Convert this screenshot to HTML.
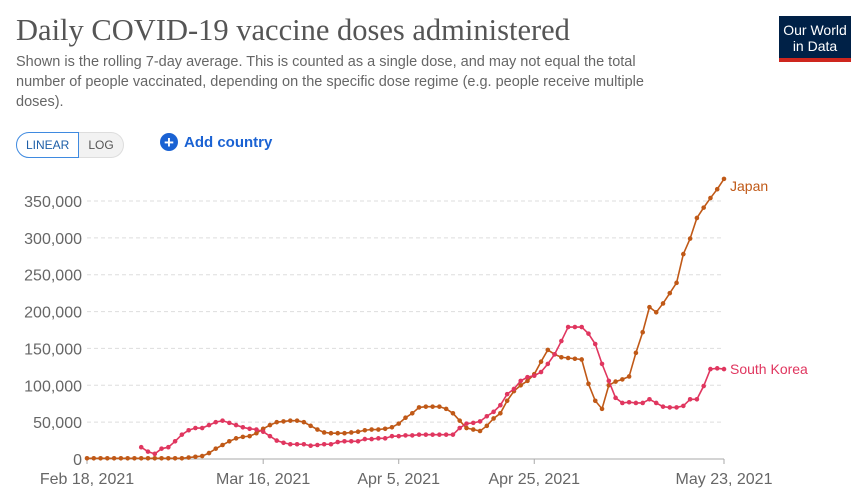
<!DOCTYPE html>
<html><head><meta charset="utf-8"><style>
body{margin:0;width:867px;height:499px;background:#fff;font-family:"Liberation Sans",sans-serif;overflow:hidden;position:relative}
#title{position:absolute;left:16px;top:13px;font-family:"Liberation Serif",serif;font-size:30.5px;color:#555;white-space:nowrap}
#sub{position:absolute;left:16px;top:52px;width:665px;font-size:14.5px;line-height:20px;color:#666}
.btns{position:absolute;left:16px;top:132px;display:flex;font-size:12px}
.b{padding:5px 9px;border:1px solid #ddd;color:#555}
.b1{border:1px solid #3f8ae0;color:#1d5fa8;border-radius:13px 0 0 13px}
.b2{border-radius:0 13px 13px 0;background:#f2f2f2;border-left:none}
#add{position:absolute;left:160px;top:133px;font-size:15px;font-weight:bold;color:#1a62d3;display:flex;align-items:center;gap:6px}
#add span.c{width:18px;height:18px;border-radius:50%;background:#1a62d3;color:#fff;display:inline-flex;align-items:center;justify-content:center;font-size:17px;line-height:1}
#logo{position:absolute;left:779px;top:16px;width:72px;height:46px;background:#002147;color:#fff;font-size:14px;text-align:center;line-height:16px;box-sizing:border-box;padding-top:6px;border-bottom:4px solid #ce261e}
</style></head><body>
<div id="title">Daily COVID-19 vaccine doses administered</div>
<div id="sub">Shown is the rolling 7-day average. This is counted as a single dose, and may not equal the total number of people vaccinated, depending on the specific dose regime (e.g. people receive multiple doses).</div>
<div class="btns"><div class="b b1">LINEAR</div><div class="b b2">LOG</div></div>
<div id="add"><span class="c">+</span>Add country</div>
<div id="logo">Our World<br>in Data</div>
<svg id="chart" width="867" height="499" style="position:absolute;left:0;top:0"></svg>
<script>
const yTicks=[0,50000,100000,150000,200000,250000,300000,350000];
const yTickLabels=["0","50,000","100,000","150,000","200,000","250,000","300,000","350,000"];
const xTickDays=[0,26,46,66,94];
const xTickLabels=["Feb 18, 2021","Mar 16, 2021","Apr 5, 2021","Apr 25, 2021","May 23, 2021"];
const japan=[1000,1000,1000,1000,1000,1000,1000,1000,1000,1000,1000,1000,1000,1000,1000,2000,3000,4000,8000,14000,19000,24000,28000,30000,31000,35000,41000,46000,50000,51000,52000,52000,50000,45000,40000,36000,35000,35000,35000,36000,37000,39000,40000,40000,41000,43000,48000,56000,62000,70000,71000,71000,71000,68000,62000,52000,42000,40000,38000,45000,55000,62000,79000,92000,100000,106000,115000,132000,148000,142000,138000,137000,136000,135000,102000,79000,68000,100000,105000,108000,112000,144000,172000,206000,199000,211000,225000,239000,278000,299000,327000,341000,354000,366000,380000];
const korea=[null,null,null,null,null,null,null,null,16000,10000,7000,14000,16000,24000,33000,39000,42000,42000,46000,50000,52000,49000,46000,43000,41000,40000,37000,31000,25000,22000,20000,20000,20000,18000,19000,20000,20000,23000,24000,24000,24000,27000,27000,28000,28000,31000,31000,32000,32000,33000,33000,33000,33000,33000,33000,42000,48000,49000,51000,58000,64000,73000,88000,95000,106000,111000,113000,118000,129000,142000,160000,179000,179000,179000,170000,156000,129000,106000,83000,76000,77000,76000,76000,81000,76000,71000,70000,70000,72000,81000,81000,99000,122000,123000,122000];
const svg=document.getElementById('chart');const NS='http://www.w3.org/2000/svg';
const x0=87,x1=724,y0=459,y1=201;
const xs=d=>x0+(x1-x0)*d/94;
const ys=v=>y0-(y0-y1)*v/350000;
function mk(t,a,p){const e=document.createElementNS(NS,t);for(const k in a)e.setAttribute(k,a[k]);(p||svg).appendChild(e);return e;}
yTicks.forEach((v,i)=>{
  if(i>0){const g=mk('line',{x1:x0,x2:x1,y1:ys(v),y2:ys(v),stroke:'#ddd','stroke-dasharray':'4,3'});
  
  }
  const t=mk('text',{x:82,y:ys(v)+6,'text-anchor':'end','font-size':'16','fill':'#666','font-family':'Liberation Sans, sans-serif'});
  t.textContent=yTickLabels[i];
  
  
});
const ax=mk('line',{x1:x0,x2:x1,y1:y0,y2:y0,stroke:'#aaa'});


xTickDays.forEach((d,i)=>{
  mk('line',{x1:xs(d),x2:xs(d),y1:y0,y2:y0+5,stroke:'#aaa'});
  const t=mk('text',{x:xs(d),y:484,'text-anchor':'middle','font-size':'16','fill':'#666','font-family':'Liberation Sans, sans-serif'});
  t.textContent=xTickLabels[i];
  
  
});
function series(arr,color,name,label,off){
  const g=mk('g',{});
  
  
  let d='';let last=null;
  arr.forEach((v,i)=>{if(v==null)return;d+=(d?'L':'M')+xs(i)+','+ys(v);last=[i,v];});
  mk('path',{d:d,fill:'none',stroke:color,'stroke-width':1.6},g);
  arr.forEach((v,i)=>{if(v==null)return;const c=mk('circle',{cx:xs(i),cy:ys(v),r:2.3,fill:color},g);
    
    });
  const t=mk('text',{x:xs(last[0])+6,y:ys(last[1])+off,'font-size':'14','fill':color,'font-family':'Liberation Sans, sans-serif'});
  t.textContent=label;
  
  
}
series(japan,'#c05917','japan','Japan',12);
series(korea,'#e0365f','south-korea','South Korea',5);
</script>
</body></html>
